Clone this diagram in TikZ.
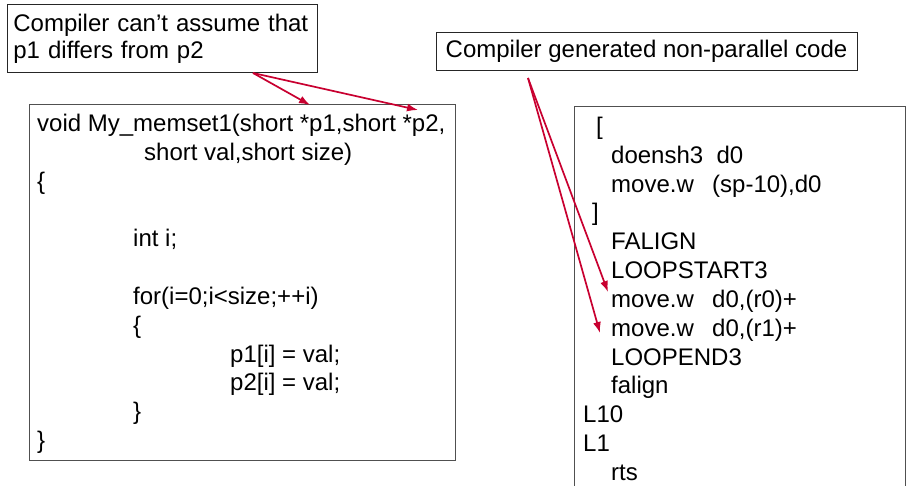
\documentclass[tikz,border=0pt]{standalone}
\usepackage{fontspec}
\setmainfont{Liberation Sans}
\usetikzlibrary{arrows.meta}
\definecolor{arrowred}{RGB}{200,0,48}
\definecolor{boxgray}{RGB}{80,80,80}
\begin{document}
\begin{tikzpicture}[x=1pt,y=-1pt,
    note/.style={draw=black!85,line width=0.8pt,inner ysep=0pt,
      font=\fontsize{24}{27}\selectfont},
    codebox/.style={draw=boxgray,line width=0.9pt,inner sep=0pt},
    codeline/.style={anchor=base west,inner sep=0pt,
      font=\fontsize{24}{28.8}\selectfont},
    redarrow/.style={draw=arrowred,line width=1.7pt,
      -{Latex[length=11pt,width=8pt]}}]
  \useasboundingbox (0,0) rectangle (907,486);
  \node[note,anchor=north west,align=left,text width=298pt,inner xsep=6pt,
    minimum height=68pt] (assume) at (7,4)
    {Compiler can’t assume that\\p1 differs from p2};
  \node[note,minimum width=421pt,minimum height=38pt] (nonpar) at (646.5,51)
    {Compiler generated non-parallel code};
  \node[codebox,anchor=north west,minimum width=426pt,minimum height=356pt]
    (lcode) at (29,104) {};
  \node[inner sep=0pt,anchor=north west,minimum width=331pt,minimum height=400pt]
    (rcode) at (574,106) {};
  \draw[boxgray,line width=0.9pt]
    (rcode.south west) |- (rcode.north east) -- (rcode.south east);
  \node[codeline] (l0) at (37,132) {void My\_memset1(short *p1,short *p2,};
  \node[codeline] (l1) at (144,160.8) {short val,short size)};
  \node[codeline] (l2) at (37,189.6) {\{};
  \node[codeline] (l3) at (133,246.8) {int i;};
  \node[codeline] (l4) at (133,304.4) {for(i=0;i<size;++i)};
  \node[codeline] (l5) at (133,333.2) {\{};
  \node[codeline] (l6) at (230,362) {p1[i] = val;};
  \node[codeline] (l7) at (230,390.8) {p2[i] = val;};
  \node[codeline] (l8) at (133,419.6) {\}};
  \node[codeline] (l9) at (37,448.4) {\}};
  \node[codeline] (r0) at (596,134.6) {[};
  \node[codeline] (r1) at (611,163.4) {doensh3\ \ d0};
  \node[codeline] (r2) at (611,192.2) {\makebox[101pt][l]{move.w}(sp-10),d0};
  \node[codeline] (r3) at (592,221) {]};
  \node[codeline] (r4) at (611,249.8) {FALIGN};
  \node[codeline] (r5) at (611,278.6) {LOOPSTART3};
  \node[codeline] (r6) at (611,307.4) {\makebox[101pt][l]{move.w}d0,(r0)+};
  \node[codeline] (r7) at (611,336.2) {\makebox[101pt][l]{move.w}d0,(r1)+};
  \node[codeline] (r8) at (611,365) {LOOPEND3};
  \node[codeline] (r9) at (611,393.8) {falign};
  \node[codeline] (r10) at (583,422.6) {L10};
  \node[codeline] (r11) at (583,451.4) {L1};
  \node[codeline] (r12) at (611,480.2) {rts};
  \coordinate (fromassume) at (253,73);
  \coordinate (top1) at (310,105);
  \coordinate (top2) at (418,110);
  \coordinate (fromnonpar) at (528,78);
  \coordinate (mov0) at (608,292);
  \coordinate (mov1) at (600,333);
  \begin{scope}[redarrow]
    \draw (fromassume) to (top1);
    \draw (fromassume) to (top2);
    \draw (fromnonpar) to (mov0);
    \draw (fromnonpar) to (mov1);
  \end{scope}
\end{tikzpicture}
\end{document}
